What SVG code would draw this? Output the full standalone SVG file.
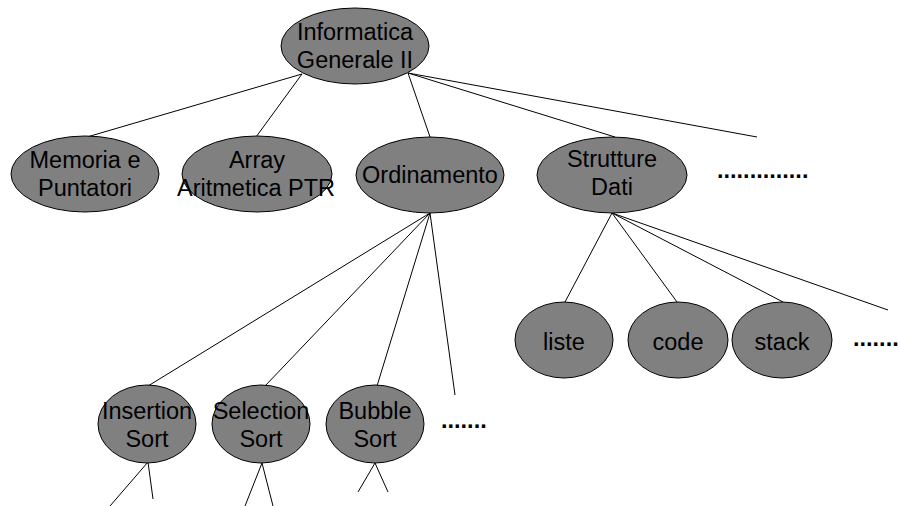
<svg xmlns="http://www.w3.org/2000/svg" width="900" height="506" viewBox="0 0 900 506">
<style>
.n{fill:#808080;stroke:#000;stroke-width:1}
.t{font-family:"Liberation Sans",Arial,sans-serif;font-size:23.5px;fill:#000;text-anchor:middle}
.d{font-family:"Liberation Sans",Arial,sans-serif;font-size:23.5px;font-weight:bold;fill:#000}
#edges line{stroke:#000;stroke-width:1}
</style>
<rect width="900" height="506" fill="#fff"/>
<g id="edges">
<line x1="302" y1="74" x2="87" y2="137"/>
<line x1="302" y1="74" x2="256" y2="137"/>
<line x1="408" y1="73" x2="430" y2="137"/>
<line x1="408" y1="73" x2="615" y2="137"/>
<line x1="408" y1="73" x2="757" y2="137"/>
<line x1="430" y1="213" x2="148" y2="386"/>
<line x1="430" y1="213" x2="265" y2="386"/>
<line x1="430" y1="213" x2="377" y2="386"/>
<line x1="430" y1="213" x2="455" y2="395"/>
<line x1="612" y1="213" x2="565" y2="302"/>
<line x1="612" y1="213" x2="677" y2="302"/>
<line x1="612" y1="213" x2="783" y2="302"/>
<line x1="612" y1="213" x2="888" y2="310"/>
<line x1="148" y1="462" x2="110" y2="506"/>
<line x1="148" y1="462" x2="153" y2="499"/>
<line x1="262" y1="463" x2="245" y2="506"/>
<line x1="262" y1="463" x2="273" y2="506"/>
<line x1="375" y1="463" x2="358" y2="492"/>
<line x1="375" y1="463" x2="388" y2="492"/>
</g>
<g id="root"><ellipse class="n" cx="355" cy="46" rx="74" ry="38"/><text class="t" x="355" y="40">Informatica</text><text class="t" x="355" y="68">Generale II</text></g>
<g id="memoria"><ellipse class="n" cx="85" cy="174" rx="74" ry="38"/><text class="t" x="85" y="168">Memoria e</text><text class="t" x="85" y="196">Puntatori</text></g>
<g id="array"><ellipse class="n" cx="257" cy="174" rx="75" ry="38"/><text class="t" x="257" y="168">Array</text><text class="t" x="256" y="196">Aritmetica PTR</text></g>
<g id="ordinamento"><ellipse class="n" cx="430" cy="175" rx="74" ry="38"/><text class="t" x="430" y="183">Ordinamento</text></g>
<g id="strutture"><ellipse class="n" cx="612" cy="175" rx="75" ry="38"/><text class="t" x="612" y="167">Strutture</text><text class="t" x="612" y="195">Dati</text></g>
<g id="dots1"><text class="d" x="717" y="178">..............</text></g>
<g id="liste"><ellipse class="n" cx="564" cy="340" rx="49" ry="38"/><text class="t" x="564" y="350">liste</text></g>
<g id="code"><ellipse class="n" cx="678" cy="340" rx="50" ry="38"/><text class="t" x="678" y="350">code</text></g>
<g id="stack"><ellipse class="n" cx="782" cy="340" rx="50" ry="38"/><text class="t" x="782" y="350">stack</text></g>
<g id="dots2"><text class="d" x="853" y="346">.......</text></g>
<g id="insertion"><ellipse class="n" cx="147" cy="424" rx="49" ry="39"/><text class="t" x="147" y="419">Insertion</text><text class="t" x="147" y="447">Sort</text></g>
<g id="selection"><ellipse class="n" cx="261" cy="424" rx="49" ry="39"/><text class="t" x="261" y="419">Selection</text><text class="t" x="261" y="447">Sort</text></g>
<g id="bubble"><ellipse class="n" cx="375" cy="424" rx="49" ry="39"/><text class="t" x="375" y="419">Bubble</text><text class="t" x="375" y="447">Sort</text></g>
<g id="dots3"><text class="d" x="441" y="428">.......</text></g>
</svg>
